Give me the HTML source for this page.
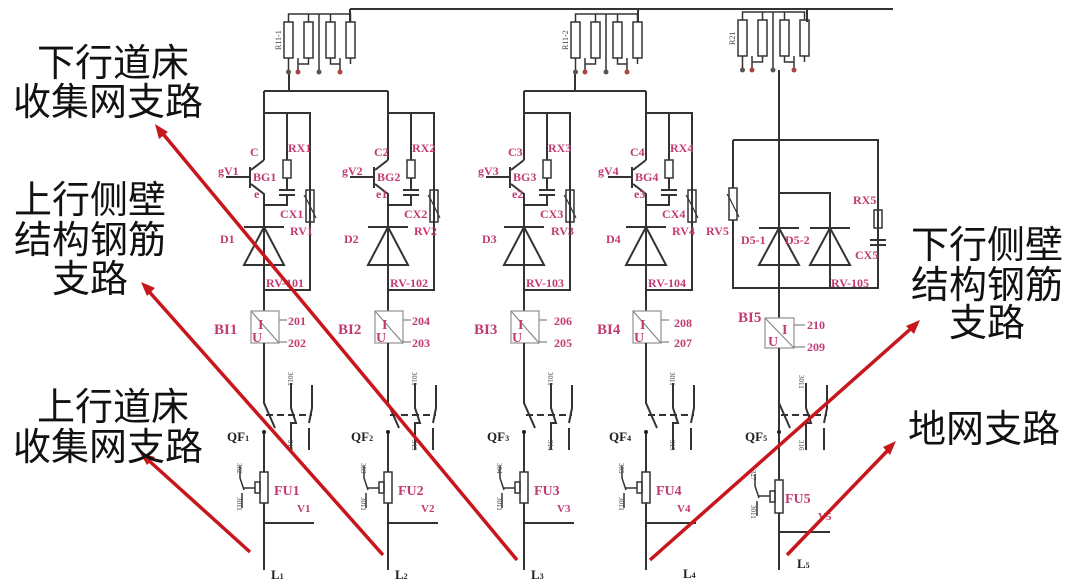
<!DOCTYPE html>
<html><head><meta charset="utf-8"><style>
html,body{margin:0;padding:0;background:#fff;}
svg{display:block;}
.w{stroke:#333;stroke-width:2;fill:none;}
.t{font-family:"Liberation Serif",serif;font-weight:bold;font-size:12px;fill:#c23a72;}
.k{font-family:"Liberation Serif",serif;font-weight:bold;font-size:13px;fill:#222;}
.s{font-family:"Liberation Serif",serif;font-size:8px;fill:#444;}
.cn{font-family:"Liberation Sans","Noto Sans CJK SC",sans-serif;font-size:38px;fill:#111;text-anchor:middle;}
.r{stroke:#c8161d;stroke-width:3.5;fill:none;}
</style></head><body>
<svg width="1080" height="586" viewBox="0 0 1080 586" xmlns="http://www.w3.org/2000/svg">
<defs>
<g id="res4">
 <rect x="0" y="0" width="9" height="36" class="w" style="stroke-width:1.5"/>
 <rect x="20" y="0" width="9" height="36" class="w" style="stroke-width:1.5"/>
 <rect x="42" y="0" width="9" height="36" class="w" style="stroke-width:1.5"/>
 <rect x="62" y="0" width="9" height="36" class="w" style="stroke-width:1.5"/>
 <path class="w" style="stroke-width:1.5" d="M4.5 0V-8H24.5V0 M24.5 -8 H46.5V0 M46.5 -8H66.5V0 M4.5 36V50 M24.5 36V42H14V36 M35 -8V50 M46.5 36V42H56V36 M66.5 36V42 M56 42V50 M14 42V50"/>
 <circle cx="4.5" cy="50" r="2.5" fill="#555"/><circle cx="14" cy="50" r="2.5" fill="#a44"/><circle cx="35" cy="50" r="2.5" fill="#555"/><circle cx="56" cy="50" r="2.5" fill="#a44"/>
</g>
<g id="br">
 <path class="w" d="M0 91V160 M0 113H46V290H0 M23 113V160 M23 178V190 M15 190H31 M15 195H31 M23 195V205H0"/>
 <rect x="19" y="160" width="8" height="18" class="w" style="stroke-width:1.5"/>
 <path class="w" d="M0 160L-13 170 M-14 167V188 M-13 184L0 194V311 M-38 177H-14"/>
 <rect x="42" y="190" width="8" height="32" class="w" style="stroke-width:1.5"/>
 <path class="w" style="stroke-width:1.2" d="M40 195L43 200Q46 206 49 212L52 218"/>
 <path class="w" d="M-20 227H20 M0 227L-20 265H20Z"/>
 <rect x="-13" y="311" width="28" height="32" style="fill:none;stroke:#999;stroke-width:1.3"/>
 <path d="M-13 311L15 343 M15 320H23 M15 342H23" style="stroke:#888;stroke-width:1.2;fill:none"/>
 <path class="w" d="M0 343V403L11 428 M27 383V408L32 423H27V450 M48 385V408L45 423 M45 428V450 M0 432V570 M0 523H50"/>
 <path class="w" style="stroke-dasharray:7 4" d="M2 415H48"/>
 <circle cx="0" cy="432" r="2" fill="#222"/>
 <rect x="-4" y="472" width="8" height="31" class="w" style="stroke-width:1.5;fill:#fff"/>
 <rect x="-9" y="482" width="5" height="11" class="w" style="stroke-width:1.5"/>
 <path class="w" style="stroke-width:1.5" d="M-9 488H-20 M-24 466V478L-20 490 M-22 493V508"/>
</g>
</defs>

<!-- top wiring -->
<path class="w" d="M350 9H893 M350 9V22 M638 9V22 M807 9V22 M289 72V91 M264 91H388 M575 72V91 M524 91H646"/>
<use href="#res4" x="284" y="22"/>
<use href="#res4" x="571" y="22"/>
<use href="#res4" x="738" y="20"/>
<text class="s" transform="translate(281,50) rotate(-90)">R11-1</text>
<text class="s" transform="translate(568,50) rotate(-90)">R11-2</text>
<text class="s" transform="translate(735,45) rotate(-90)">R21</text>

<use href="#br" x="264" y="0"/>
<use href="#br" x="388" y="0"/>
<use href="#br" x="524" y="0"/>
<use href="#br" x="646" y="0"/>

<!-- branch 5 -->
<g>
 <path class="w" d="M779 70V570 M733 140H878V288H733V140 M733 140V188 M733 220V288 M779 193H830V288 M878 140V210 M878 228V240 M870 240H886 M870 245H886 M878 245V288 M759 228H799 M779 228L759 265H799Z M810 228H850 M830 228L810 265H850Z M779 532H830"/>
 <rect x="729" y="188" width="8" height="32" class="w" style="stroke-width:1.5;fill:#fff"/>
 <path class="w" style="stroke-width:1.2" d="M727 194L730 199Q733 205 736 211L739 217"/>
 <rect x="874" y="210" width="8" height="18" class="w" style="stroke-width:1.5"/>
 <rect x="765" y="318" width="29" height="30" style="fill:#fff;stroke:#999;stroke-width:1.3"/>
 <path d="M765 318L794 348 M794 325H805 M794 347H805" style="stroke:#888;stroke-width:1.2;fill:none"/>
 <path class="w" d="M779 348V403L790 428 M806 383V408L811 423H806V450 M827 385V408L824 423 M824 428V450"/>
 <path class="w" style="stroke-dasharray:7 4" d="M781 415H827"/>
 <circle cx="779" cy="432" r="2" fill="#222"/>
 <rect x="775" y="480" width="8" height="33" class="w" style="stroke-width:1.5;fill:#fff"/>
 <rect x="770" y="491" width="5" height="11" class="w" style="stroke-width:1.5"/>
 <path class="w" style="stroke-width:1.5" d="M770 496H759 M755 474V486L759 498 M757 501V516"/>
</g>

<!-- labels branch 1 -->
<g class="t">
<text x="250" y="156">C</text><text x="218" y="175">gV1</text><text x="253" y="181">BG1</text><text x="254" y="198">e</text>
<text x="288" y="152">RX1</text><text x="280" y="218">CX1</text><text x="290" y="235">RV1</text><text x="220" y="243">D1</text><text x="266" y="287">RV-101</text>
<text x="374" y="156">C2</text><text x="342" y="175">gV2</text><text x="377" y="181">BG2</text><text x="376" y="198">e1</text>
<text x="412" y="152">RX2</text><text x="404" y="218">CX2</text><text x="414" y="235">RV2</text><text x="344" y="243">D2</text><text x="390" y="287">RV-102</text>
<text x="508" y="156">C3</text><text x="478" y="175">gV3</text><text x="513" y="181">BG3</text><text x="512" y="198">e2</text>
<text x="548" y="152">RX3</text><text x="540" y="218">CX3</text><text x="551" y="235">RV3</text><text x="482" y="243">D3</text><text x="526" y="287">RV-103</text>
<text x="630" y="156">C4</text><text x="598" y="175">gV4</text><text x="635" y="181">BG4</text><text x="634" y="198">e3</text>
<text x="670" y="152">RX4</text><text x="662" y="218">CX4</text><text x="672" y="235">RV4</text><text x="606" y="243">D4</text><text x="648" y="287">RV-104</text>
<text x="706" y="235">RV5</text><text x="741" y="244">D5-1</text><text x="785" y="244">D5-2</text><text x="853" y="204">RX5</text><text x="855" y="259">CX5</text><text x="831" y="287">RV-105</text>
</g>
<g class="t" style="font-size:15px">
<text x="214" y="334">BI1</text><text x="338" y="334">BI2</text><text x="474" y="334">BI3</text><text x="597" y="334">BI4</text><text x="738" y="322">BI5</text>
</g>
<g class="t" style="font-size:14px">
<text x="258" y="329">I</text><text x="252" y="342">U</text><text x="382" y="329">I</text><text x="376" y="342">U</text>
<text x="518" y="329">I</text><text x="512" y="342">U</text><text x="640" y="329">I</text><text x="634" y="342">U</text>
<text x="782" y="334">I</text><text x="768" y="346">U</text>
</g>
<g class="t">
<text x="288" y="325">201</text><text x="288" y="347">202</text><text x="412" y="325">204</text><text x="412" y="347">203</text>
<text x="554" y="325">206</text><text x="554" y="347">205</text><text x="674" y="327">208</text><text x="674" y="347">207</text>
<text x="807" y="329">210</text><text x="807" y="351">209</text>
</g>
<g class="t" style="font-size:14px">
<text x="274" y="495">FU1</text><text x="398" y="495">FU2</text><text x="534" y="495">FU3</text><text x="656" y="495">FU4</text><text x="785" y="503">FU5</text>
</g>
<g class="t" style="font-size:11px">
<text x="297" y="512">V1</text><text x="421" y="512">V2</text><text x="557" y="512">V3</text><text x="677" y="512">V4</text><text x="818" y="520">V5</text>
</g>
<g class="k">
<text x="227" y="441">QF<tspan font-size="8">1</tspan></text><text x="351" y="441">QF<tspan font-size="8">2</tspan></text>
<text x="487" y="441">QF<tspan font-size="8">3</tspan></text><text x="609" y="441">QF<tspan font-size="8">4</tspan></text><text x="745" y="441">QF<tspan font-size="8">5</tspan></text>
<text x="271" y="579">L<tspan font-size="8">1</tspan></text><text x="395" y="579">L<tspan font-size="8">2</tspan></text>
<text x="531" y="579">L<tspan font-size="8">3</tspan></text><text x="683" y="578">L<tspan font-size="8">4</tspan></text><text x="797" y="568">L<tspan font-size="8">5</tspan></text>
</g>
<g class="s" style="font-size:7px">
<text transform="translate(288,372) rotate(90)">3011</text><text transform="translate(412,372) rotate(90)">3011</text><text transform="translate(548,372) rotate(90)">3011</text><text transform="translate(670,372) rotate(90)">3011</text><text transform="translate(799,375) rotate(90)">3011</text>
<text transform="translate(237,463) rotate(90)">302</text><text transform="translate(361,463) rotate(90)">303</text><text transform="translate(497,463) rotate(90)">304</text><text transform="translate(619,463) rotate(90)">305</text><text transform="translate(751,470) rotate(90)">327</text>
<text transform="translate(237,497) rotate(90)">3011</text><text transform="translate(361,497) rotate(90)">3011</text><text transform="translate(497,497) rotate(90)">3011</text><text transform="translate(619,497) rotate(90)">3011</text><text transform="translate(751,505) rotate(90)">3011</text>
<text transform="translate(288,440) rotate(90)">313</text><text transform="translate(412,440) rotate(90)">313</text><text transform="translate(548,440) rotate(90)">314</text><text transform="translate(670,440) rotate(90)">315</text><text transform="translate(799,440) rotate(90)">316</text>
</g>

<!-- red arrows -->
<g class="r">
<path d="M250 552L146 458"/><path d="M383 555L145 287"/><path d="M517 560L159 129"/><path d="M650 560L915 325"/><path d="M787 555L892 446"/>
</g>
<g fill="#c8161d">
<polygon points="140,453 155,457 147,465"/>
<polygon points="141,282 155,288 147,296"/>
<polygon points="155,124 168,132 159,139"/>
<polygon points="920,320 906,326 914,334"/>
<polygon points="896,441 883,447 890,455"/>
</g>

<!-- Chinese labels -->
<g class="cn">
<text x="113" y="76">下行道床</text><text x="108" y="115">收集网支路</text>
<text x="90" y="213">上行侧壁</text><text x="90" y="253">结构钢筋</text><text x="90" y="292">支路</text>
<text x="113" y="420">上行道床</text><text x="108" y="460">收集网支路</text>
<text x="987" y="258">下行侧壁</text><text x="987" y="298">结构钢筋</text><text x="987" y="336">支路</text>
<text x="984" y="442">地网支路</text>
</g>
</svg>
</body></html>
